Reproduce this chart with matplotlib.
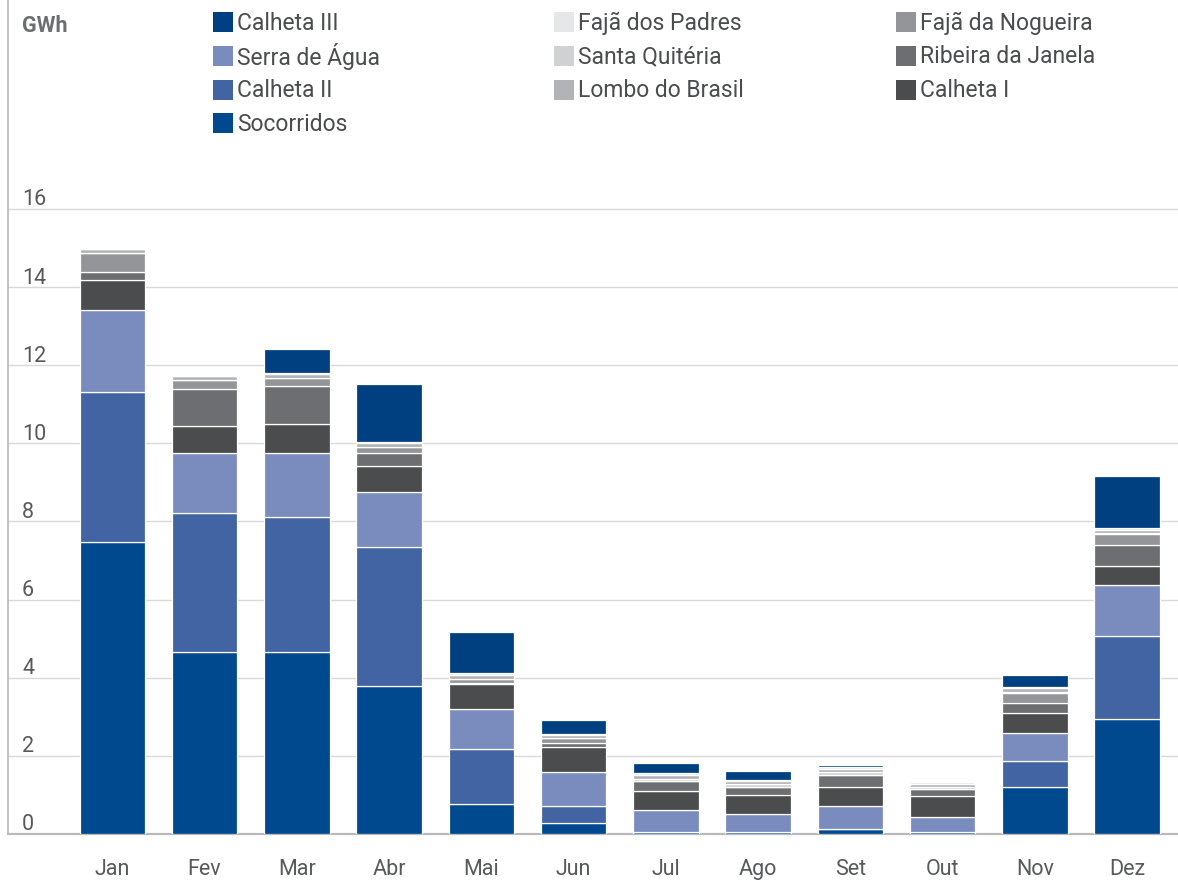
import numpy as np
import matplotlib
matplotlib.use("Agg")
import matplotlib.pyplot as plt
from matplotlib.patches import Rectangle

plt.rcParams['font.family'] = ['Roboto', 'DejaVu Sans']

# meses
meses = ['Jan', 'Fev', 'Mar', 'Abr', 'Mai', 'Jun', 'Jul', 'Ago', 'Set', 'Out', 'Nov', 'Dez']

# produção mensal por central (GWh), de baixo para cima
socorridos = [7.48, 4.66, 4.66, 3.79, 0.76, 0.29, 0.04, 0.04, 0.13, 0.04, 1.20, 2.94]
calheta_2 = [3.84, 3.56, 3.46, 3.56, 1.41, 0.43, 0.00, 0.00, 0.00, 0.00, 0.68, 2.14]
serra_agua = [2.10, 1.53, 1.63, 1.41, 1.03, 0.87, 0.57, 0.46, 0.58, 0.40, 0.71, 1.30]
calheta_1 = [0.75, 0.70, 0.75, 0.66, 0.64, 0.63, 0.48, 0.49, 0.49, 0.54, 0.50, 0.49]
ribeira_janela = [0.22, 0.95, 0.97, 0.33, 0.02, 0.11, 0.26, 0.21, 0.31, 0.16, 0.26, 0.53]
faja_nogueira = [0.48, 0.22, 0.21, 0.15, 0.10, 0.12, 0.00, 0.00, 0.00, 0.00, 0.27, 0.28]
santa_quiteria = [0.00, 0.00, 0.00, 0.00, 0.02, 0.00, 0.06, 0.08, 0.07, 0.06, 0.02, 0.02]
lombo_brasil = [0.11, 0.11, 0.10, 0.10, 0.10, 0.09, 0.10, 0.08, 0.08, 0.08, 0.09, 0.09]
faja_padres = [0.00, 0.00, 0.02, 0.03, 0.03, 0.02, 0.05, 0.03, 0.06, 0.05, 0.03, 0.04]
calheta_3 = [0.00, 0.00, 0.62, 1.49, 1.06, 0.36, 0.25, 0.22, 0.05, 0.03, 0.32, 1.34]

series = [
    ('Socorridos', socorridos, '#00498f'),
    ('Calheta II', calheta_2, '#4364a2'),
    ('Serra de Água', serra_agua, '#7a8bbd'),
    ('Calheta I', calheta_1, '#4b4c4e'),
    ('Ribeira da Janela', ribeira_janela, '#6d6e71'),
    ('Fajã da Nogueira', faja_nogueira, '#949598'),
    ('Santa Quitéria', santa_quiteria, '#d0d1d3'),
    ('Lombo do Brasil', lombo_brasil, '#b2b3b6'),
    ('Fajã dos Padres', faja_padres, '#e6e7e8'),
    ('Calheta III', calheta_3, '#003f80'),
]
cores = {nome: cor for nome, _, cor in series}

# colunas da legenda
legenda_cols = [
    ['Calheta III', 'Serra de Água', 'Calheta II', 'Socorridos'],
    ['Fajã dos Padres', 'Santa Quitéria', 'Lombo do Brasil'],
    ['Fajã da Nogueira', 'Ribeira da Janela', 'Calheta I'],
]

yticks = [0, 2, 4, 6, 8, 10, 12, 14, 16]

W, H = 1178, 884
fig = plt.figure(figsize=(W / 100, H / 100), dpi=100)
ax = fig.add_axes([8 / W, 50 / H, 1 - 8 / W, 1 - 50 / H])

x = np.arange(len(meses))
base = np.zeros(len(meses))
for nome, vals, cor in series:
    vals = np.array(vals)
    ax.bar(x, vals, bottom=base, width=0.71, color=cor, edgecolor='white',
           linewidth=0.9, zorder=3)
    base += vals

ax.set_xlim(-1.13, 11.55)
ax.set_ylim(0, 21.35)

# grelha
for v in yticks[1:]:
    ax.axhline(v, color='#d9d9d9', linewidth=1, zorder=1)
for v in yticks:
    ax.text(0.012, v + 0.09, str(v), transform=ax.get_yaxis_transform(),
            ha='left', va='baseline', fontsize=15.5, color='#58595b')

ax.set_yticks([])
ax.set_xticks(x)
ax.set_xticklabels(meses, fontsize=15.5, color='#58595b')
ax.tick_params(axis='x', length=0, pad=18)

for s in ['top', 'right']:
    ax.spines[s].set_visible(False)
ax.spines['left'].set_color('#b9b9b9')
ax.spines['left'].set_linewidth(1.2)
ax.spines['bottom'].set_color('#b9b9b9')
ax.spines['bottom'].set_linewidth(1.6)
ax.spines['bottom'].set_zorder(2)

fig.text(22 / W, 1 - 26 / H, 'GWh', ha='left', va='center', fontsize=15.5,
         fontweight='bold', color='#6d6e71')

# legenda em três colunas (desenhada à mão para espaçamento uniforme)
col_x = [213, 554, 896]
for cx, nomes in zip(col_x, legenda_cols):
    for j, nome in enumerate(nomes):
        cy = 22 + j * 33.8
        fig.patches.append(Rectangle((cx / W, (H - cy - 10) / H), 20 / W, 20 / H,
                                     transform=fig.transFigure, facecolor=cores[nome],
                                     edgecolor='none'))
        fig.text((cx + 24) / W, (H - cy - 1) / H, nome, ha='left', va='center',
                 fontsize=16.5, color='#4b4c4e')

fig.savefig('out.png', dpi=100)
